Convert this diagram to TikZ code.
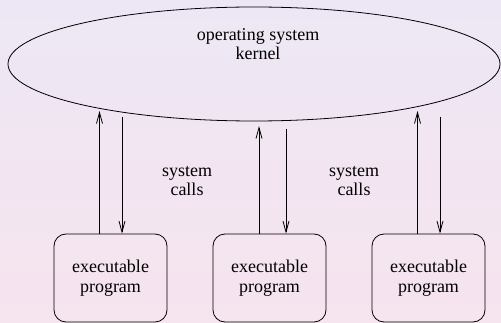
\documentclass[tikz,border=0pt]{standalone}
\usepackage{fontspec}
\setmainfont{Liberation Serif}
\newfontfamily\timesfont{Liberation Serif}
\usetikzlibrary{shapes.geometric,arrows.meta}

\definecolor{bgtop}{RGB}{237,231,245}
\definecolor{bgbot}{RGB}{246,228,238}

\tikzset{
  kernel/.style={draw,ellipse,line width=0.8pt,minimum width=492pt,minimum height=114pt,inner sep=0pt},
  progbox/.style={draw,rounded corners=12pt,line width=0.8pt,minimum width=113pt,minimum height=88pt,
    align=center,font=\timesfont\fontsize{18}{19.5}\selectfont},
  lbl/.style={align=center,font=\timesfont\fontsize{18}{19.5}\selectfont},
  call/.style={line width=0.8pt,-{Straight Barb[length=11pt,width=6pt,line width=0.8pt]}}
}

\begin{document}
\begin{tikzpicture}[x=1pt,y=-1pt]
\shade[top color=bgtop,bottom color=bgbot] (0,0) rectangle (501,323);
\useasboundingbox (0,0) rectangle (501,323);

\node[kernel] (kernel) at (254,64) {};
\node[lbl] (kname) at (258,44) {operating system\\kernel};

\node[progbox] (prog1) at (110.5,278) {executable\\program};
\node[progbox] (prog2) at (269.5,278) {executable\\program};
\node[progbox] (prog3) at (428.5,278) {executable\\program};

\node[lbl] (sys1) at (187,181) {system\\calls};
\node[lbl] (sys2) at (354,181) {system\\calls};

% ends at the kernel
\coordinate (in1) at (99.5,111);
\coordinate (out1) at (122,117);
\coordinate (in2) at (259,126);
\coordinate (out2) at (286,129);
\coordinate (in3) at (417.5,111);
\coordinate (out3) at (440,117);

\draw[call] (prog1.north -| in1) -- (in1);
\draw[call] (out1) -- (prog1.north -| out1);
\draw[call] (prog2.north -| in2) -- (in2);
\draw[call] (out2) -- (prog2.north -| out2);
\draw[call] (prog3.north -| in3) -- (in3);
\draw[call] (out3) -- (prog3.north -| out3);
\end{tikzpicture}
\end{document}
